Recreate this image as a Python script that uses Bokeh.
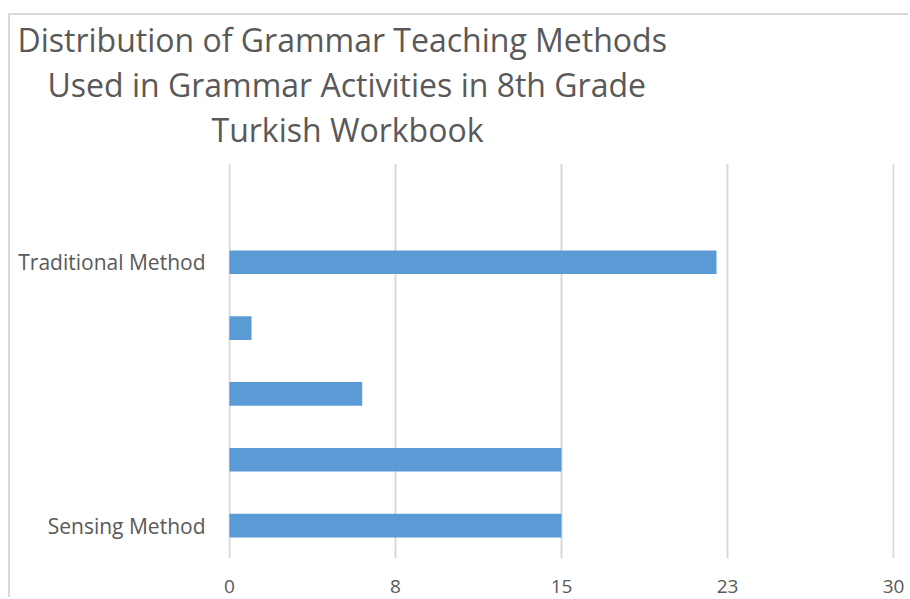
from bokeh.plotting import figure
from bokeh.models import FixedTicker, Range1d, Title
from bokeh.embed import file_html
from bokeh.resources import INLINE

# ---- data ----
title_lines = [
    "Distribution of Grammar Teaching Methods",
    "Used in Grammar Activities in 8th Grade",
    "Turkish Workbook",
]
category_labels = ["Sensing Method", "", "", "", "Traditional Method", ""]
values = [15, 15, 6, 1, 22, 0]
x_ticks = [0, 7.5, 15, 22.5, 30]
x_tick_labels = ["0", "8", "15", "23", "30"]

FONT = "Open Sans"
TXT = "#595959"
BAR = "#5B9BD5"
GRID = "#D9D9D9"

positions = list(range(len(values)))

p = figure(
    width=900, height=584,
    x_range=Range1d(-0.04, 30.04), y_range=Range1d(-0.5, len(values) - 0.5),
    output_backend="svg", toolbar_location=None,
    min_border_left=218, min_border_right=16, min_border_top=147, min_border_bottom=41,
    margin=(13, 0, 0, 8),
    styles={"border-left": "2px solid #D9D9D9", "border-top": "2px solid #D9D9D9"},
)
p.outline_line_color = None
p.background_fill_color = "white"
p.border_fill_color = "white"

p.hbar(y=positions, left=0, right=values, height=0.36,
       fill_color=BAR, line_color=None)

# x axis
p.xaxis.ticker = FixedTicker(ticks=x_ticks)
p.xaxis.major_label_overrides = {t: l for t, l in zip(x_ticks, x_tick_labels)}
p.xaxis.axis_line_color = None
p.xaxis.major_tick_line_color = None
p.xaxis.minor_tick_line_color = None
p.xaxis.major_label_text_font = FONT
p.xaxis.major_label_text_font_size = "19px"
p.xaxis.major_label_text_color = TXT
p.xaxis.major_label_standoff = 15

# y axis
shown = [i for i, l in enumerate(category_labels) if l]
p.yaxis.ticker = FixedTicker(ticks=shown)
p.yaxis.major_label_overrides = {i: category_labels[i] for i in shown}
p.yaxis.axis_line_color = None
p.yaxis.major_tick_line_color = None
p.yaxis.minor_tick_line_color = None
p.yaxis.major_label_text_font = FONT
p.yaxis.major_label_text_font_size = "21px"
p.yaxis.major_label_text_color = TXT
p.yaxis.major_label_standoff = 17

p.xgrid.grid_line_color = GRID
p.xgrid.grid_line_width = 2
p.ygrid.grid_line_color = None

# title: three lines, stacked above the frame (first added = closest to frame)
p.add_layout(Title(text=" ", text_font_size="1px", standoff=10), "above")
offsets = [-211, -181, -17]
for line, off in reversed(list(zip(title_lines, offsets))):
    p.add_layout(Title(text=line, align="left", offset=off, standoff=0,
                       text_font=FONT, text_font_size="32px",
                       text_font_style="normal", text_color=TXT), "above")

open("out.html", "w").write(file_html(p, INLINE))
